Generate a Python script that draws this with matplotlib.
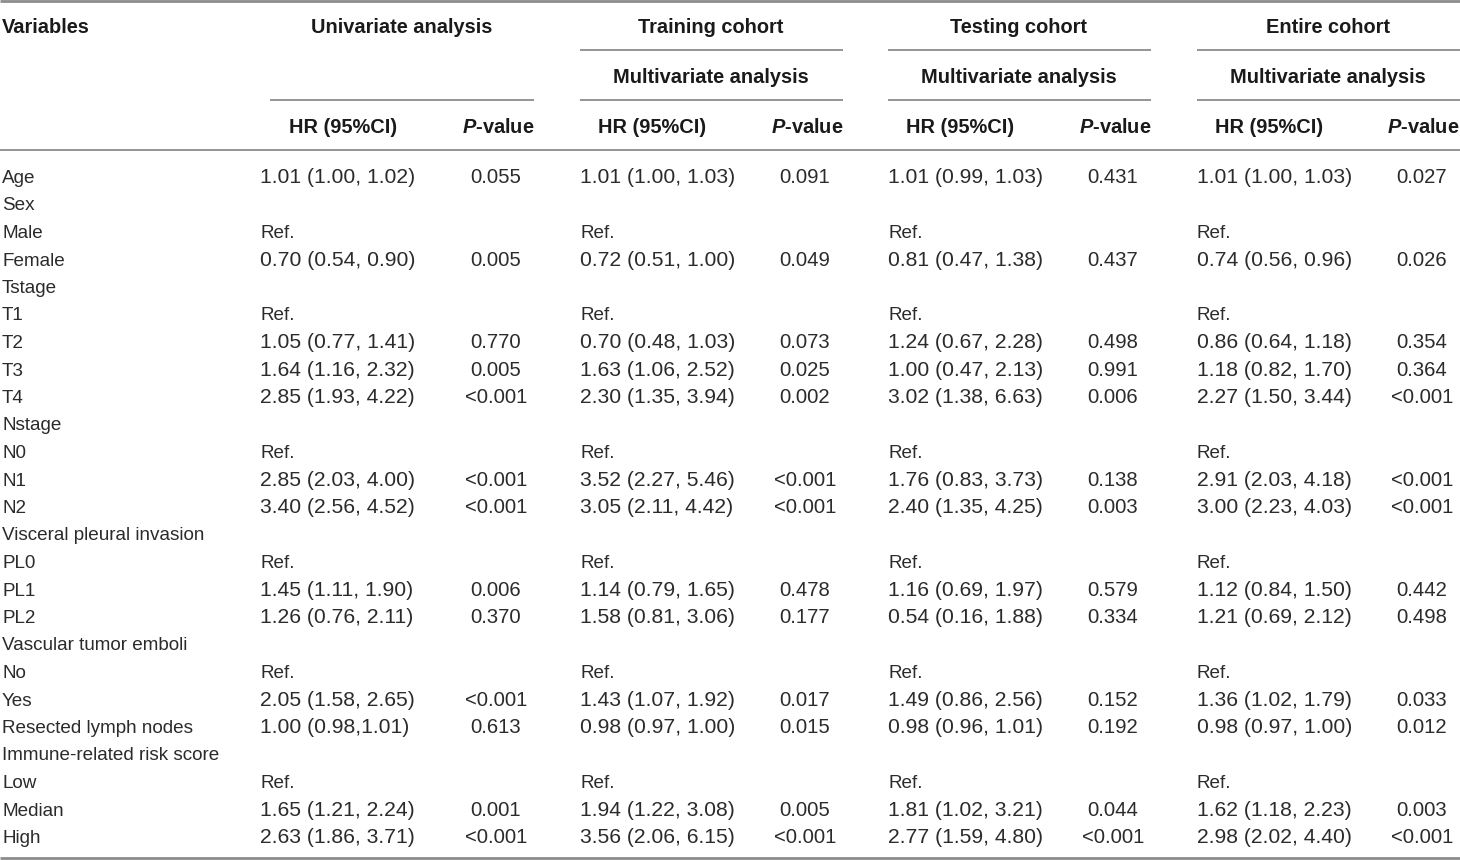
import matplotlib
matplotlib.use("Agg")
import matplotlib.pyplot as plt
from matplotlib import font_manager

# ---- data ----
variables = ["Age", "Sex", "Male", "Female", "Tstage", "T1", "T2", "T3", "T4",
             "Nstage", "N0", "N1", "N2", "Visceral pleural invasion", "PL0", "PL1", "PL2",
             "Vascular tumor emboli", "No", "Yes", "Resected lymph nodes",
             "Immune-related risk score", "Low", "Median", "High"]

uni_hr = ["1.01 (1.00, 1.02)", "", "Ref.", "0.70 (0.54, 0.90)", "", "Ref.", "1.05 (0.77, 1.41)",
          "1.64 (1.16, 2.32)", "2.85 (1.93, 4.22)", "", "Ref.", "2.85 (2.03, 4.00)", "3.40 (2.56, 4.52)",
          "", "Ref.", "1.45 (1.11, 1.90)", "1.26 (0.76, 2.11)", "", "Ref.", "2.05 (1.58, 2.65)",
          "1.00 (0.98,1.01)", "", "Ref.", "1.65 (1.21, 2.24)", "2.63 (1.86, 3.71)"]
uni_p = ["0.055", "", "", "0.005", "", "", "0.770", "0.005", "<0.001", "", "", "<0.001", "<0.001",
         "", "", "0.006", "0.370", "", "", "<0.001", "0.613", "", "", "0.001", "<0.001"]

train_hr = ["1.01 (1.00, 1.03)", "", "Ref.", "0.72 (0.51, 1.00)", "", "Ref.", "0.70 (0.48, 1.03)",
            "1.63 (1.06, 2.52)", "2.30 (1.35, 3.94)", "", "Ref.", "3.52 (2.27, 5.46)", "3.05 (2.11, 4.42)",
            "", "Ref.", "1.14 (0.79, 1.65)", "1.58 (0.81, 3.06)", "", "Ref.", "1.43 (1.07, 1.92)",
            "0.98 (0.97, 1.00)", "", "Ref.", "1.94 (1.22, 3.08)", "3.56 (2.06, 6.15)"]
train_p = ["0.091", "", "", "0.049", "", "", "0.073", "0.025", "0.002", "", "", "<0.001", "<0.001",
           "", "", "0.478", "0.177", "", "", "0.017", "0.015", "", "", "0.005", "<0.001"]

test_hr = ["1.01 (0.99, 1.03)", "", "Ref.", "0.81 (0.47, 1.38)", "", "Ref.", "1.24 (0.67, 2.28)",
           "1.00 (0.47, 2.13)", "3.02 (1.38, 6.63)", "", "Ref.", "1.76 (0.83, 3.73)", "2.40 (1.35, 4.25)",
           "", "Ref.", "1.16 (0.69, 1.97)", "0.54 (0.16, 1.88)", "", "Ref.", "1.49 (0.86, 2.56)",
           "0.98 (0.96, 1.01)", "", "Ref.", "1.81 (1.02, 3.21)", "2.77 (1.59, 4.80)"]
test_p = ["0.431", "", "", "0.437", "", "", "0.498", "0.991", "0.006", "", "", "0.138", "0.003",
          "", "", "0.579", "0.334", "", "", "0.152", "0.192", "", "", "0.044", "<0.001"]

entire_hr = ["1.01 (1.00, 1.03)", "", "Ref.", "0.74 (0.56, 0.96)", "", "Ref.", "0.86 (0.64, 1.18)",
             "1.18 (0.82, 1.70)", "2.27 (1.50, 3.44)", "", "Ref.", "2.91 (2.03, 4.18)", "3.00 (2.23, 4.03)",
             "", "Ref.", "1.12 (0.84, 1.50)", "1.21 (0.69, 2.12)", "", "Ref.", "1.36 (1.02, 1.79)",
             "0.98 (0.97, 1.00)", "", "Ref.", "1.62 (1.18, 2.23)", "2.98 (2.02, 4.40)"]
entire_p = ["0.027", "", "", "0.026", "", "", "0.354", "0.364", "<0.001", "", "", "<0.001", "<0.001",
            "", "", "0.442", "0.498", "", "", "0.033", "0.012", "", "", "0.003", "<0.001"]

group_titles = ["Univariate analysis", "Training cohort", "Testing cohort", "Entire cohort"]
sub_title = "Multivariate analysis"

# ---- font ----
avail = {f.name for f in font_manager.fontManager.ttflist}
fam = "Liberation Sans" if "Liberation Sans" in avail else "DejaVu Sans"
plt.rcParams["font.family"] = [fam, "DejaVu Sans"]
plt.rcParams["mathtext.fontset"] = "custom"
plt.rcParams["mathtext.bfit"] = f"{fam}:italic:bold"
plt.rcParams["mathtext.it"] = f"{fam}:italic"
plt.rcParams["mathtext.bf"] = f"{fam}:bold"

W, H = 1460, 860
fig = plt.figure(figsize=(W / 100, H / 100), dpi=100)
ax = fig.add_axes([0, 0, 1, 1])
ax.set_xlim(0, W)
ax.set_ylim(H, 0)
ax.axis("off")

FS_HEAD = 14.4
FS_VAR = 13.6
FS_HR = 15.2
FS_REF = 13.6
FS_P = 14.6
TXT = "#2b2b2b"
HEAD = "#1a1a1a"
LINE = "#8c8c8c"

groups = [
    dict(hr_left=260, hr_hc=343, p_c=496, p_hr=534, l0=270, l1=534, title_c=402),
    dict(hr_left=580, hr_hc=652, p_c=805, p_hr=843, l0=580, l1=843, title_c=711),
    dict(hr_left=888, hr_hc=960, p_c=1113, p_hr=1151, l0=888, l1=1151, title_c=1019),
    dict(hr_left=1197, hr_hc=1269, p_c=1422, p_hr=1459, l0=1197, l1=1460, title_c=1328),
]
hr_cols = [uni_hr, train_hr, test_hr, entire_hr]
p_cols = [uni_p, train_p, test_p, entire_p]

# rules
ax.plot([0, W], [1, 1], color=LINE, lw=2.0, solid_capstyle="butt")
ax.plot([0, W], [150, 150], color=LINE, lw=1.3, solid_capstyle="butt")
ax.plot([0, W], [858, 858], color=LINE, lw=2.0, solid_capstyle="butt")
for i, g in enumerate(groups):
    if i > 0:
        ax.plot([g["l0"], g["l1"]], [50, 50], color=LINE, lw=1.3, solid_capstyle="butt")
    ax.plot([g["l0"], g["l1"]], [100, 100], color=LINE, lw=1.3, solid_capstyle="butt")

# headers (baseline aligned)
HB = [33, 83, 133]
ax.text(2, HB[0], "Variables", fontsize=FS_HEAD, fontweight="bold", color=HEAD, ha="left", va="baseline")
for i, g in enumerate(groups):
    ax.text(g["title_c"], HB[0], group_titles[i], fontsize=FS_HEAD, fontweight="bold", color=HEAD,
            ha="center", va="baseline")
    if i > 0:
        ax.text(g["title_c"], HB[1], sub_title, fontsize=FS_HEAD, fontweight="bold", color=HEAD,
                ha="center", va="baseline")
    ax.text(g["hr_hc"], HB[2], "HR (95%CI)", fontsize=FS_HEAD, fontweight="bold", color=HEAD,
            ha="center", va="baseline")
    ax.text(g["p_hr"], HB[2], r"$\mathbfit{P}$-value", fontsize=FS_HEAD, fontweight="bold", color=HEAD,
            ha="right", va="baseline")

# body (baseline aligned)
y0, dy = 183, 27.5
for r, name in enumerate(variables):
    y = y0 + r * dy
    ax.text(2, y, name, fontsize=FS_VAR, color=TXT, ha="left", va="baseline")
    for g, hc, pc in zip(groups, hr_cols, p_cols):
        if hc[r]:
            fs = FS_REF if hc[r] == "Ref." else FS_HR
            ax.text(g["hr_left"], y, hc[r], fontsize=fs, color=TXT, ha="left", va="baseline")
        if pc[r]:
            ax.text(g["p_c"], y, pc[r], fontsize=FS_P, color=TXT, ha="center", va="baseline")

fig.savefig("out.png", dpi=100)
